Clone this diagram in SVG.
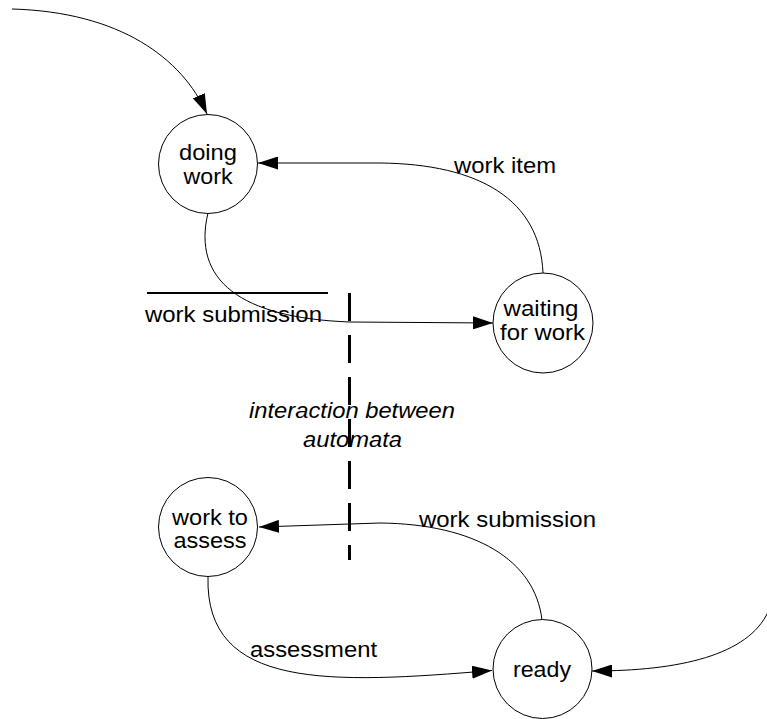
<svg xmlns="http://www.w3.org/2000/svg" width="767" height="719" viewBox="0 0 767 719">
<style>
.node circle{fill:#fff;stroke:#000;stroke-width:1}
text{font-family:"Liberation Sans",Arial,sans-serif;font-size:22px;fill:#000}
.c{text-anchor:middle}
.it{font-style:italic}
.conn path{fill:none;stroke:#000;stroke-width:1}
</style>
<defs>
<marker id="ah" markerUnits="userSpaceOnUse" markerWidth="20" markerHeight="13" refX="20" refY="6.5" orient="auto" viewBox="0 0 20 13">
<path d="M0,0 L20,6.5 L0,13 z" fill="#000"/>
</marker>
</defs>
<g id="connectors" class="conn">
<path id="e-start1" d="M12,9 C120,12 182,58 207,114" marker-end="url(#ah)"/>
<path id="e-submit1" d="M208,213 C192,280 240,318 350,322 L493,323" marker-end="url(#ah)"/>
<path id="e-workitem" d="M543,273 C540,200 480,164 380,163 L258,163" marker-end="url(#ah)"/>
<path id="e-submit2" d="M542,620 C535,560 475,524 380,523 L259,527" marker-end="url(#ah)"/>
<path id="e-assess" d="M208,577 C205,690 330,684 492,670.5" marker-end="url(#ah)"/>
<path id="e-start2" d="M768,612 C748,655 680,671 592,671" marker-end="url(#ah)"/>
</g>
<g id="n-doing" class="node">
<circle cx="208" cy="164" r="49.5"/>
<text class="c" x="208" y="160" textLength="58" lengthAdjust="spacingAndGlyphs">doing</text>
<text class="c" x="208" y="184" textLength="49" lengthAdjust="spacingAndGlyphs">work</text>
</g>
<g id="n-waiting" class="node">
<circle cx="543" cy="323" r="50"/>
<text class="c" x="541" y="316" textLength="75" lengthAdjust="spacingAndGlyphs">waiting</text>
<text class="c" x="542.5" y="340" textLength="85" lengthAdjust="spacingAndGlyphs">for work</text>
</g>
<g id="n-assess" class="node">
<circle cx="208" cy="527" r="49.5"/>
<text class="c" x="210" y="525" textLength="76" lengthAdjust="spacingAndGlyphs">work to</text>
<text class="c" x="210" y="548" textLength="73" lengthAdjust="spacingAndGlyphs">assess</text>
</g>
<g id="n-ready" class="node">
<circle cx="542.5" cy="669" r="49.5"/>
<text class="c" x="542" y="677" textLength="58" lengthAdjust="spacingAndGlyphs">ready</text>
</g>
<g id="labels">
<text x="454" y="173" textLength="102" lengthAdjust="spacingAndGlyphs">work item</text>
<line x1="147" y1="293" x2="328" y2="293" stroke="#000" stroke-width="2"/>
<text x="145" y="322" textLength="177" lengthAdjust="spacingAndGlyphs">work submission</text>
<text x="419" y="527" textLength="177" lengthAdjust="spacingAndGlyphs">work submission</text>
<text x="250" y="657" textLength="127" lengthAdjust="spacingAndGlyphs">assessment</text>
</g>
<g id="interaction">
<line x1="349.5" y1="293" x2="349.5" y2="560" stroke="#000" stroke-width="3" stroke-dasharray="28 14"/>
<text class="c it" x="352" y="418" textLength="206" lengthAdjust="spacingAndGlyphs">interaction between</text>
<text class="c it" x="352.5" y="447" textLength="99" lengthAdjust="spacingAndGlyphs">automata</text>
</g>
</svg>
